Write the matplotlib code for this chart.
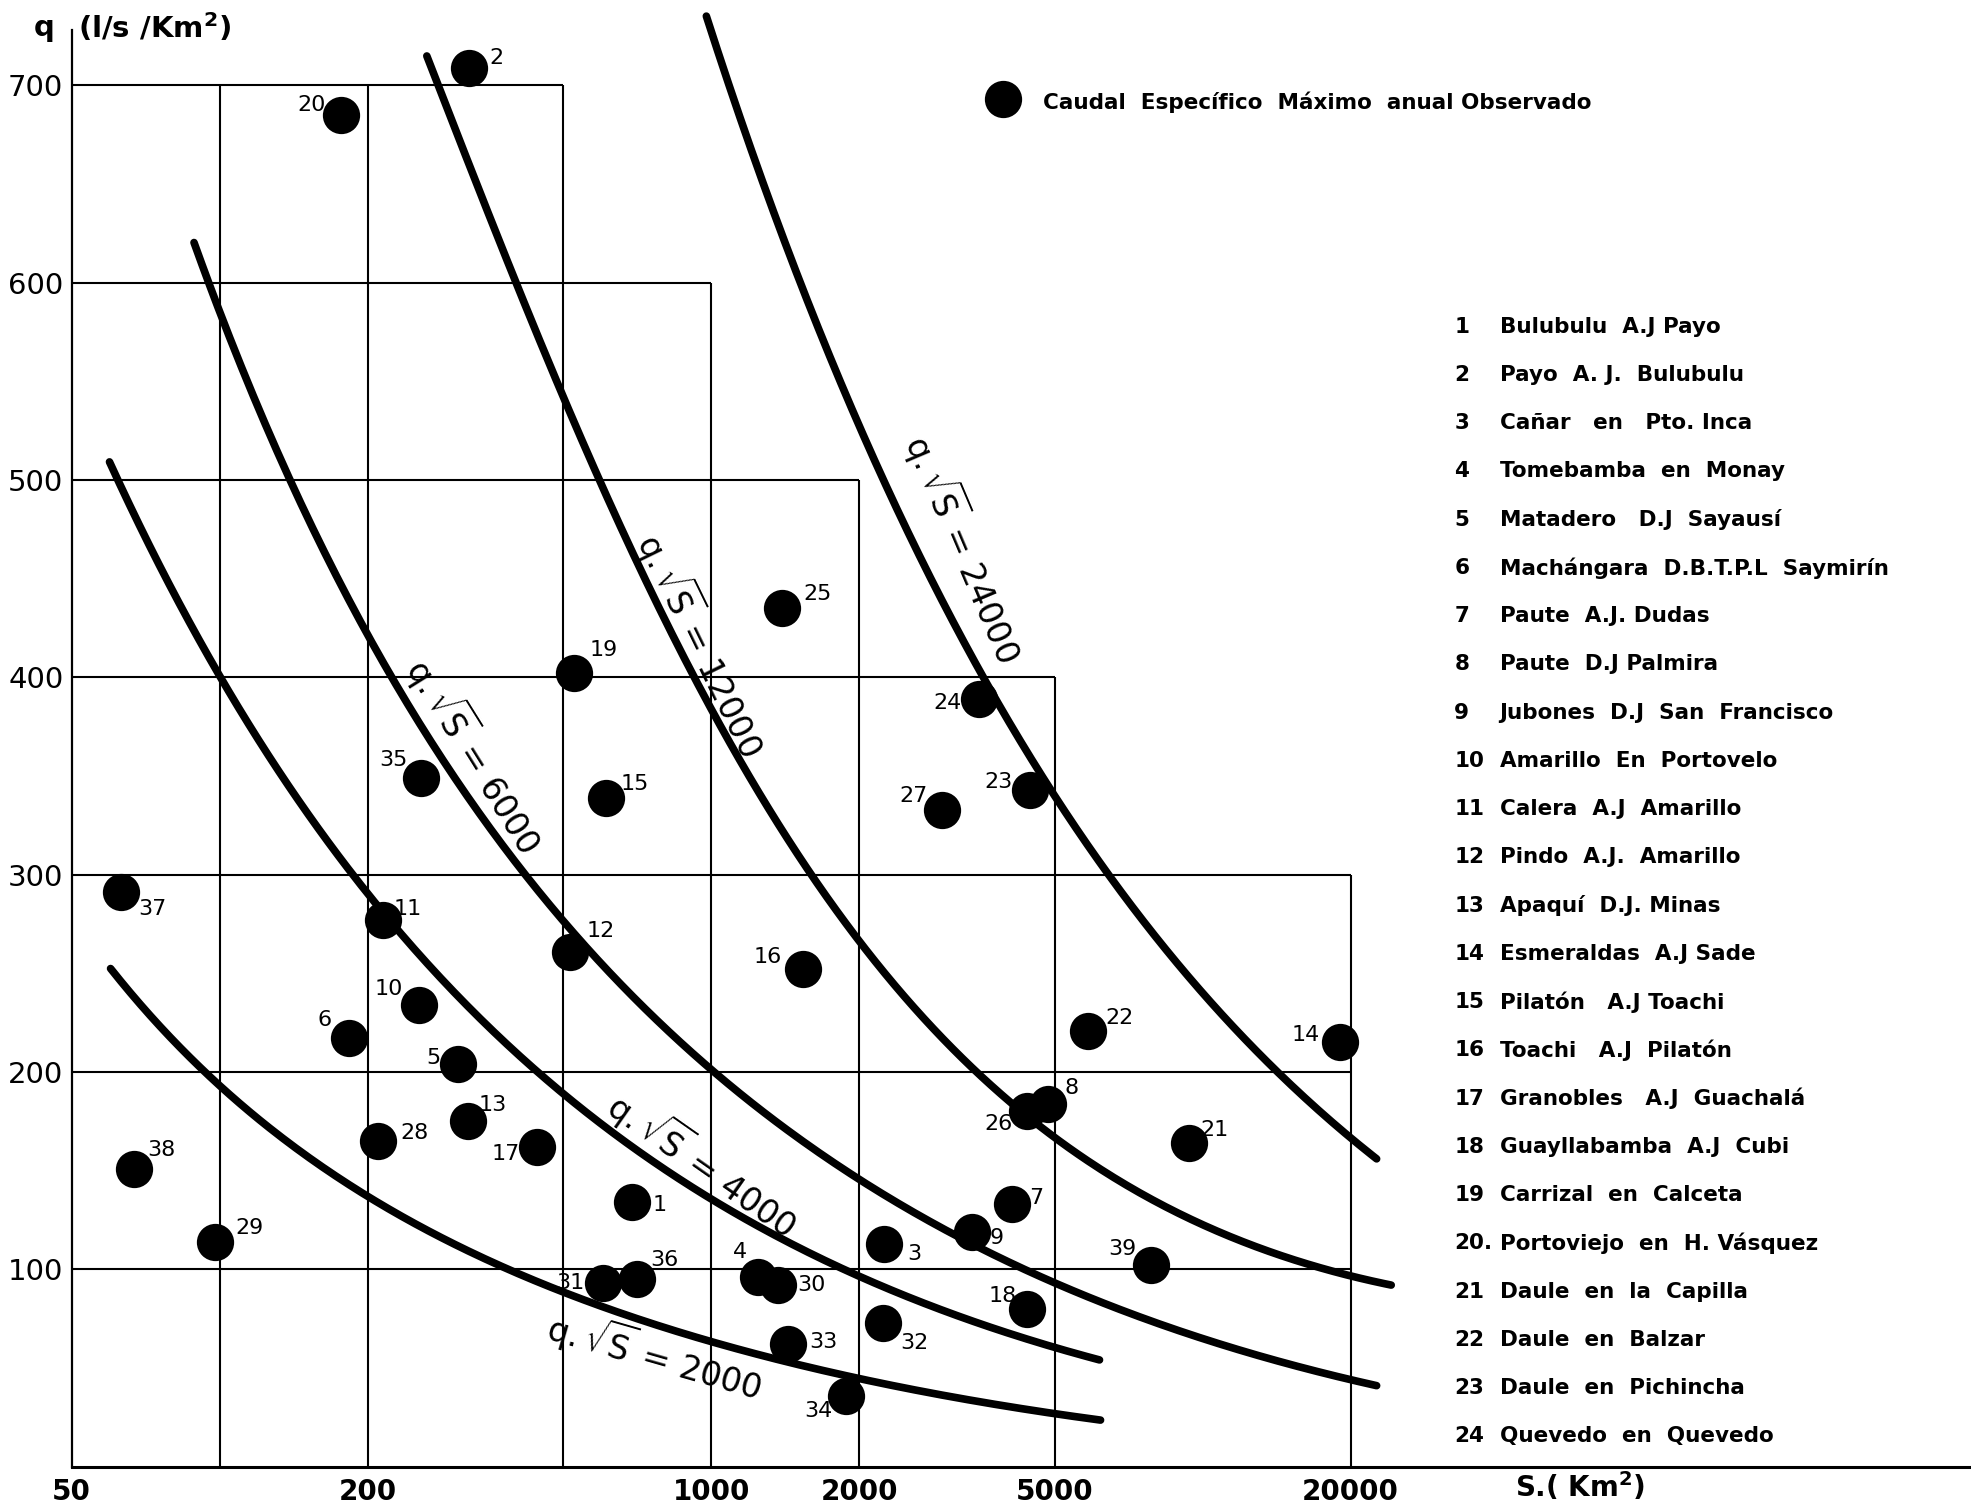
import matplotlib
matplotlib.use('Agg')
import matplotlib.pyplot as plt
import numpy as np

# ---------------- data ----------------
station_ids = list(range(1, 40))
area_km2 = [690, 322, 2250, 1245, 305, 183, 4100, 4850, 3400, 255,
            215, 517, 320, 19000, 612, 1540, 442, 4400, 527, 177,
            9400, 5850, 4450, 3500, 1395, 4400, 2950, 210, 98, 1370,
            602, 2240, 1437, 1880, 257, 706, 63, 67, 7870]
q_specific = [134, 709, 113, 96, 204, 217, 133, 184, 119, 234,
              277, 261, 175, 215, 339, 252, 162, 80, 402, 685,
              164, 221, 343, 389, 435, 180, 333, 165, 114, 92,
              93, 73, 62, 36, 349, 95, 291, 151, 102]

# curves q*sqrt(S) = C
curve_C = [2000, 4000, 6000, 12000, 24000]
curve_S = [
    [60, 70, 80, 100, 128, 163, 200, 240, 296, 357, 500, 680, 950, 1390, 1980, 3180, 3800, 5000, 6200],
    [59.7, 62.5, 71.6, 82.8, 99.4, 116, 137, 162, 193, 240, 296, 365, 500, 680, 950, 1390, 1980, 2590, 3800, 5000, 6170],
    [88.7, 97.5, 106, 118, 134, 141, 165, 200, 226, 266, 329, 418, 502, 682, 950, 1390, 1980, 2590, 3375, 3800, 5000, 7070, 9600, 13000, 20000, 22600],
    [264, 278, 318, 376, 430, 491, 565, 697, 950, 1213, 1493, 1727, 1982, 2590, 3520, 4340, 5000, 7070, 9600, 13000, 17700, 20000, 24200],
    [978, 1140, 1403, 1657, 1995, 2405, 2960, 3720, 5000, 6000, 6860, 8500, 10300, 13850, 17000, 20000, 22600],
]
curve_q = [
    [252, 236, 222, 198, 176, 152, 136, 124, 113, 104, 87, 76, 64, 53, 44, 36, 33, 28, 23.5],
    [509, 500, 470, 440, 400, 374, 347, 322, 300, 268, 243, 218, 185, 161, 140, 116, 97, 84, 71, 62, 54],
    [619, 600, 580, 555, 517, 502, 467, 428, 400, 369, 337, 300, 272, 236, 204, 171, 146, 129, 112, 106, 93, 80, 68, 57, 43, 41],
    [716, 700, 655, 603, 570, 541, 502, 456, 397, 350, 315, 292, 272, 238, 199, 178, 166, 140, 122, 109, 101, 97.5, 92],
    [736, 667, 609, 565, 523, 487, 446, 400, 346, 313, 290, 256, 234, 200, 182, 167, 156],
]
curve_label_S = [771, 966, 334, 966, 3300]
curve_label_q = [57, 154, 361, 417, 466]
curve_label_rot = [-16, -35, -58, -64, -67]

# staircase grid
h_levels = [100, 200, 300, 400, 500, 600, 700]
h_ends = [20000, 20000, 20000, 5000, 2000, 1000, 500]
v_positions = [100, 200, 500, 1000, 2000, 5000, 20000]
v_tops = [700, 700, 700, 600, 500, 400, 300]

x_ticks = [50, 200, 1000, 2000, 5000, 20000]
y_ticks = [100, 200, 300, 400, 500, 600, 700]

legend_nums = ['1', '2', '3', '4', '5', '6', '7', '8', '9', '10', '11', '12',
               '13', '14', '15', '16', '17', '18', '19', '20.', '21', '22', '23', '24']
legend_names = ['Bulubulu  A.J Payo', 'Payo  A. J.  Bulubulu', 'Cañar   en   Pto. Inca',
                'Tomebamba  en  Monay', 'Matadero   D.J  Sayausí',
                'Machángara  D.B.T.P.L  Saymirín', 'Paute  A.J. Dudas', 'Paute  D.J Palmira',
                'Jubones  D.J  San  Francisco', 'Amarillo  En  Portovelo', 'Calera  A.J  Amarillo',
                'Pindo  A.J.  Amarillo', 'Apaquí  D.J. Minas', 'Esmeraldas  A.J Sade',
                'Pilatón   A.J Toachi', 'Toachi   A.J  Pilatón', 'Granobles   A.J  Guachalá',
                'Guayllabamba  A.J  Cubi', 'Carrizal  en  Calceta', 'Portoviejo  en  H. Vásquez',
                'Daule  en  la  Capilla', 'Daule  en  Balzar', 'Daule  en  Pichincha',
                'Quevedo  en  Quevedo']

# label offsets (layout, in reference pixels: dx right, dy down)
label_dx = [22, 22, 24, -14, -19, -19, 19, 19, 19, -24, 20, 24, 20, -27, 23, -28, -25, -20, 23, -24,
            20, 25, -25, -25, 28, -23, -23, 29, 27, 26, -26, 25, 28, -22, -22, 22, 25, 22, -23]
label_dy = [2, -8, 8, -20, -5, -15, -5, -12, 5, -13, -9, -16, -13, -6, -11, -10, 6, -10, -19, -8,
            -10, -10, -6, 3, -11, 10, -11, -6, -11, 0, 0, 16, -2, 12, -14, -15, 13, -15, -13]

# ---------------- figure ----------------
plt.rcParams['font.family'] = ['DejaVu Sans']
fig = plt.figure(figsize=(19.71, 15.03), dpi=100)
fig.patch.set_facecolor('white')

x0 = 57 / 1568
y0 = 1 - 1167 / 1196
per_dec = 391 / 1568
xmax = 50 * 10 ** ((1 - x0) / per_dec)
per_unit = ((1 - 68 / 1196) - y0) / 700
ytop = 728
ax = fig.add_axes([x0, y0, 1 - x0, ytop * per_unit])
ax.set_xscale('log')
ax.set_xlim(50, xmax)
ax.set_ylim(0, ytop)
ax.set_facecolor('white')
for s in ['top', 'right']:
    ax.spines[s].set_visible(False)
ax.spines['left'].set_linewidth(1.6)
ax.spines['bottom'].set_linewidth(2.2)
ax.tick_params(axis='both', length=0)
ax.minorticks_off()
ax.set_xticks(x_ticks)
ax.set_xticklabels([str(t) for t in x_ticks], fontsize=20, fontweight='bold')
ax.set_yticks(y_ticks)
ax.set_yticklabels([str(t) for t in y_ticks], fontsize=21)
ax.tick_params(axis='y', pad=6)
ax.tick_params(axis='x', pad=8)

# grid
for lev, end in zip(h_levels, h_ends):
    ax.hlines(lev, 50, end, color='black', lw=1.5, zorder=1)
for pos, top in zip(v_positions, v_tops):
    ax.vlines(pos, 0, top, color='black', lw=1.5, zorder=1)

# curves: smoothed line through the digitised points (cubic in log-log space,
# end points weighted so the line starts and stops where the drawing does)
for S, q in zip(curve_S, curve_q):
    lx, ly = np.log10(S), np.log10(q)
    w = np.ones_like(lx)
    w[0] = w[-1] = 6
    coef = np.polyfit(lx, ly, 3, w=w)
    xs = np.linspace(lx.min(), lx.max(), 300)
    ax.plot(10 ** xs, 10 ** np.polyval(coef, xs), color='black', lw=5.5,
            solid_capstyle='round', solid_joinstyle='round', zorder=2, clip_on=False)
for C, s, q, r in zip(curve_C, curve_label_S, curve_label_q, curve_label_rot):
    ax.text(s, q, r'$\mathrm{q}.\sqrt{\mathrm{S}}$' + f' = {C}', rotation=r, rotation_mode='anchor',
            ha='center', va='center', fontsize=24, zorder=4)

# points
ax.scatter(area_km2, q_specific, s=720, color='black', zorder=3, linewidths=0, clip_on=False)
for sid, S, q, dx, dy in zip(station_ids, area_km2, q_specific, label_dx, label_dy):
    ax.annotate(str(sid), (S, q), xytext=(dx * 0.905, -dy * 0.905), textcoords='offset points',
                ha='center', va='center', fontsize=16, zorder=4)

# axis titles
fig.text(35 / 1568, 1 - 22 / 1196, 'q', fontsize=21, fontweight='bold', ha='center', va='center')
fig.text(62 / 1568, 1 - 22 / 1196, '(l/s /Km$^{\\mathbf{2}}$)', fontsize=21, fontweight='bold',
         ha='left', va='center')
fig.text(1205 / 1568, 1 - 1183 / 1196, 'S.( Km$^{\\mathbf{2}}$)', fontsize=20, fontweight='bold',
         ha='left', va='center')

# legend marker
ax.scatter([3928], [693], s=720, color='black', clip_on=False, zorder=3, linewidths=0)
fig.text(830 / 1568, 1 - 81 / 1196, 'Caudal  Específico  Máximo  anual Observado', fontsize=15.5,
         fontweight='bold', ha='left', va='center')

# station list
for i, (n, name) in enumerate(zip(legend_nums, legend_names)):
    yy = 1 - (260 + i * 38.39) / 1196
    fig.text(1157 / 1568, yy, n, fontsize=15.5, fontweight='bold', ha='left', va='center')
    fig.text(1193 / 1568, yy, name, fontsize=15.5, fontweight='bold', ha='left', va='center')

fig.savefig('out.png', dpi=100, facecolor='white')
